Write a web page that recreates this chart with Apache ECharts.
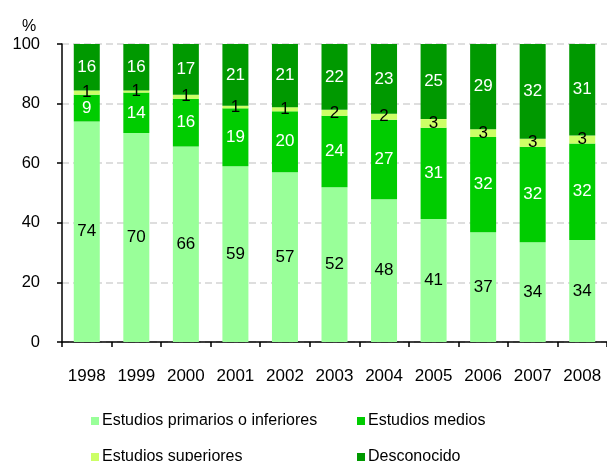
<!DOCTYPE html>
<html>
<head>
<meta charset="utf-8">
<script src="https://cdn.jsdelivr.net/npm/echarts@6/dist/echarts.min.js"></script>
<style>html,body{margin:0;padding:0;background:#fff}#c{width:607px;height:461px}</style>
</head>
<body>
<div id="c"></div>
<script>
const years = ['1998','1999','2000','2001','2002','2003','2004','2005','2006','2007','2008'];
const primarios = [74.0, 70.1, 65.6, 59.0, 57.0, 51.9, 47.9, 41.3, 36.8, 33.5, 34.2];
const medios = [9.0, 13.6, 16.0, 19.4, 20.4, 24.0, 26.7, 30.6, 32.0, 32.0, 32.4];
const superiores = [1.4, 0.7, 1.4, 0.9, 1.4, 2.0, 2.0, 2.9, 2.6, 2.7, 2.7];
const desconocido = [15.6, 15.6, 17.0, 20.7, 21.2, 22.1, 23.4, 25.2, 28.6, 31.8, 30.7];
const seriesNames = ['Estudios primarios o inferiores', 'Estudios medios', 'Estudios superiores', 'Desconocido'];
const yTicks = [0, 20, 40, 60, 80, 100];

const colors = ['#99ff99', '#00cc00', '#ccff66', '#009900'];
const labelColors = ['#000', '#fff', '#000', '#fff'];
const FONT = 'Liberation Sans, Arial, sans-serif';

const chart = echarts.init(document.getElementById('c'), null, {renderer: 'canvas'});
const allData = [primarios, medios, superiores, desconocido];

function mkSeries(i) {
  return {
    name: seriesNames[i],
    type: 'bar',
    stack: 'total',
    data: allData[i],
    barWidth: 26,
    itemStyle: {color: colors[i]},
    label: {
      show: true,
      position: 'inside',
      color: labelColors[i],
      fontSize: 17,
      fontFamily: FONT,
      formatter: p => Math.round(p.value)
    },
    emphasis: {disabled: true}
  };
}

function mkLegend(i, left, top) {
  return {
    data: [seriesNames[i]],
    left: left, top: top,
    itemWidth: 8, itemHeight: 8,
    icon: 'rect',
    textStyle: {fontSize: 16, fontFamily: FONT, color: '#000', padding: [0,0,0,-2]},
    padding: 0
  };
}

chart.setOption({
  animation: false,
  title: {text: '%', left: 17, top: 14, textStyle: {fontSize: 16, fontWeight: 'normal', fontFamily: FONT, color: '#000'}},
  legend: [
    mkLegend(0, 91, 413),
    mkLegend(1, 357, 413),
    mkLegend(2, 91, 449),
    mkLegend(3, 357, 449)
  ],
  grid: {left: 62, top: 44, bottom: 119, right: -7, containLabel: false},
  xAxis: {
    type: 'category',
    data: years,
    axisLine: {lineStyle: {color: '#000', width: 1.5}},
    axisTick: {show: true, length: 5, alignWithLabel: false, lineStyle: {color: '#000', width: 1.5}},
    axisLabel: {color: '#000', fontSize: 17, fontFamily: FONT, margin: 26, interval: 0}
  },
  yAxis: {
    type: 'value',
    min: yTicks[0], max: yTicks[yTicks.length - 1], interval: 20,
    axisLine: {show: true, lineStyle: {color: '#000', width: 1.5}},
    axisTick: {show: true, length: 5, lineStyle: {color: '#000', width: 1.5}},
    axisLabel: {color: '#000', fontSize: 16.5, fontFamily: FONT, margin: 22},
    splitLine: {show: true, lineStyle: {color: '#d4d4d4', type: [7, 4], width: 1.5}}
  },
  series: [0,1,2,3].map(mkSeries)
});
</script>
</body>
</html>
